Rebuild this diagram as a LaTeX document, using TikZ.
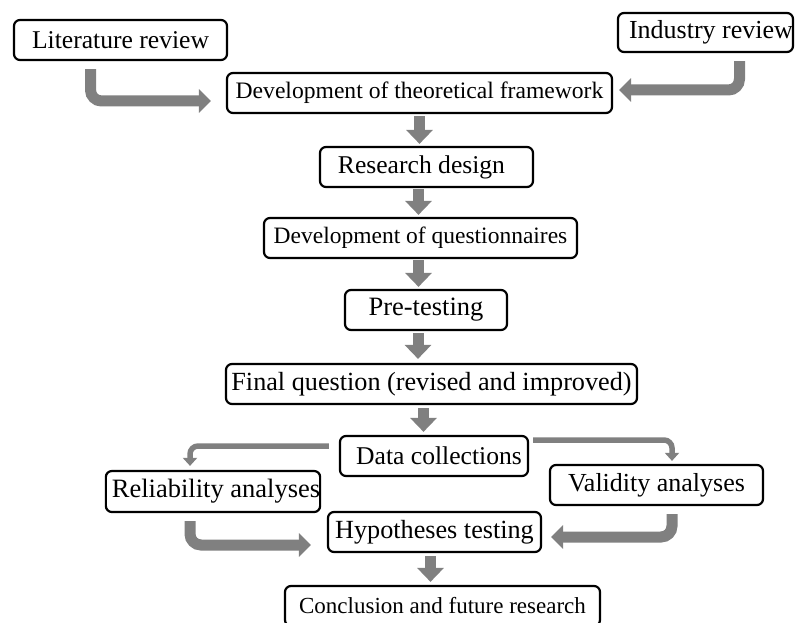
\documentclass[tikz,border=0pt]{standalone}
\usepackage{fontspec}
\setmainfont{Liberation Serif}
\usetikzlibrary{arrows.meta}
\definecolor{flowgray}{RGB}{128,128,128}
\tikzset{
  stepbox/.style={draw=black, line width=2.2pt, rounded corners=6pt, fill=white,
    inner sep=0pt, align=center, font=\fontsize{#1}{#1}\selectfont},
  stepbox/.default=26,
  bigarrow/.style={draw=flowgray, line width=11pt,
    -{Triangle[width=26pt,length=14pt]}},
  elbowarrow/.style={draw=flowgray, line width=11pt, rounded corners=11pt,
    -{Triangle[width=23pt,length=12pt]}},
  thinarrow/.style={draw=flowgray, line width=5.5pt, rounded corners=8pt,
    -{Triangle[width=14pt,length=8pt]}},
}
\begin{document}
\begin{tikzpicture}[x=1pt, y=-1pt]
\useasboundingbox (0,0) rectangle (795,623);

% process steps
\node[stepbox=25.6, minimum width=213pt, minimum height=40pt] (lit) at (120.5,40) {Literature review};
\node[stepbox=26, minimum width=175pt, minimum height=39pt] (ind) at (705.5,32.5) {\hspace{11pt}Industry review};
\node[stepbox=23.6, minimum width=385pt, minimum height=40pt] (dtf) at (419.5,93) {Development of theoretical framework};
\node[stepbox=25.6, minimum width=213pt, minimum height=40pt] (rd) at (426.5,167) {Research design\hspace{10pt}};
\node[stepbox=23.5, minimum width=313pt, minimum height=40pt] (dq) at (420.5,238) {Development of questionnaires};
\node[stepbox=26.5, minimum width=162pt, minimum height=40pt] (pt) at (426,310) {Pre-testing};
\node[stepbox=26.2, minimum width=411pt, minimum height=40pt] (fq) at (431.5,384) {Final question (revised and improved)};
\node[stepbox=25.6, minimum width=188pt, minimum height=40pt] (dc) at (434,456) {\hspace{10pt}Data collections};
\node[stepbox=26.5, minimum width=214pt, minimum height=41pt] (ra) at (213,491.5) {\hspace{6pt}Reliability analyses};
\node[stepbox=26, minimum width=213pt, minimum height=40pt] (va) at (656.5,485) {Validity analyses};
\node[stepbox=26.2, minimum width=213pt, minimum height=40pt] (ht) at (434.5,532) {Hypotheses testing};
\node[stepbox=23, minimum width=315pt, minimum height=40pt] (cf) at (442.5,606) {Conclusion and future research};

% reviews feed the framework
\draw[elbowarrow] ([xshift=-30pt,yshift=-8pt]lit.south) |- ([xshift=-15pt,yshift=-8pt]dtf.west);
\draw[elbowarrow] ([xshift=34pt,yshift=-8pt]ind.south) |- ([xshift=6pt,yshift=3pt]dtf.east);

% main sequence
\draw[bigarrow] ([yshift=-2pt]dtf.south) -- ([yshift=2pt]dtf.south |- rd.north);
\draw[bigarrow] ([xshift=-8pt,yshift=-1pt]rd.south) -- ([xshift=-8pt,yshift=2pt]rd.south |- dq.north);
\draw[bigarrow] ([xshift=-2pt,yshift=-1pt]dq.south) -- ([xshift=-2pt,yshift=2pt]dq.south |- pt.north);
\draw[bigarrow] ([xshift=-8pt,yshift=-2pt]pt.south) -- ([xshift=-8pt,yshift=4pt]pt.south |- fq.north);
\draw[bigarrow] ([xshift=-8pt,yshift=-3pt]fq.south) -- ([xshift=-8pt,yshift=3pt]fq.south |- dc.north);

% branching into the two analyses
\draw[thinarrow] ([xshift=-10pt,yshift=10pt]dc.west) -| ([xshift=-23pt,yshift=4pt]ra.north);
\draw[thinarrow] ([xshift=4pt,yshift=16pt]dc.east) -| ([xshift=15.5pt,yshift=3pt]va.north);

% analyses converge on hypotheses testing
\draw[elbowarrow] ([xshift=-23pt,yshift=-8pt]ra.south) |- ([xshift=-16pt,yshift=-13pt]ht.west);
\draw[elbowarrow] ([xshift=15.5pt,yshift=-8pt]va.south) |- ([xshift=9pt,yshift=-5pt]ht.east);

% final step
\draw[bigarrow] ([xshift=-4pt,yshift=-3pt]ht.south) -- ([xshift=-4pt,yshift=3pt]ht.south |- cf.north);
\end{tikzpicture}
\end{document}
